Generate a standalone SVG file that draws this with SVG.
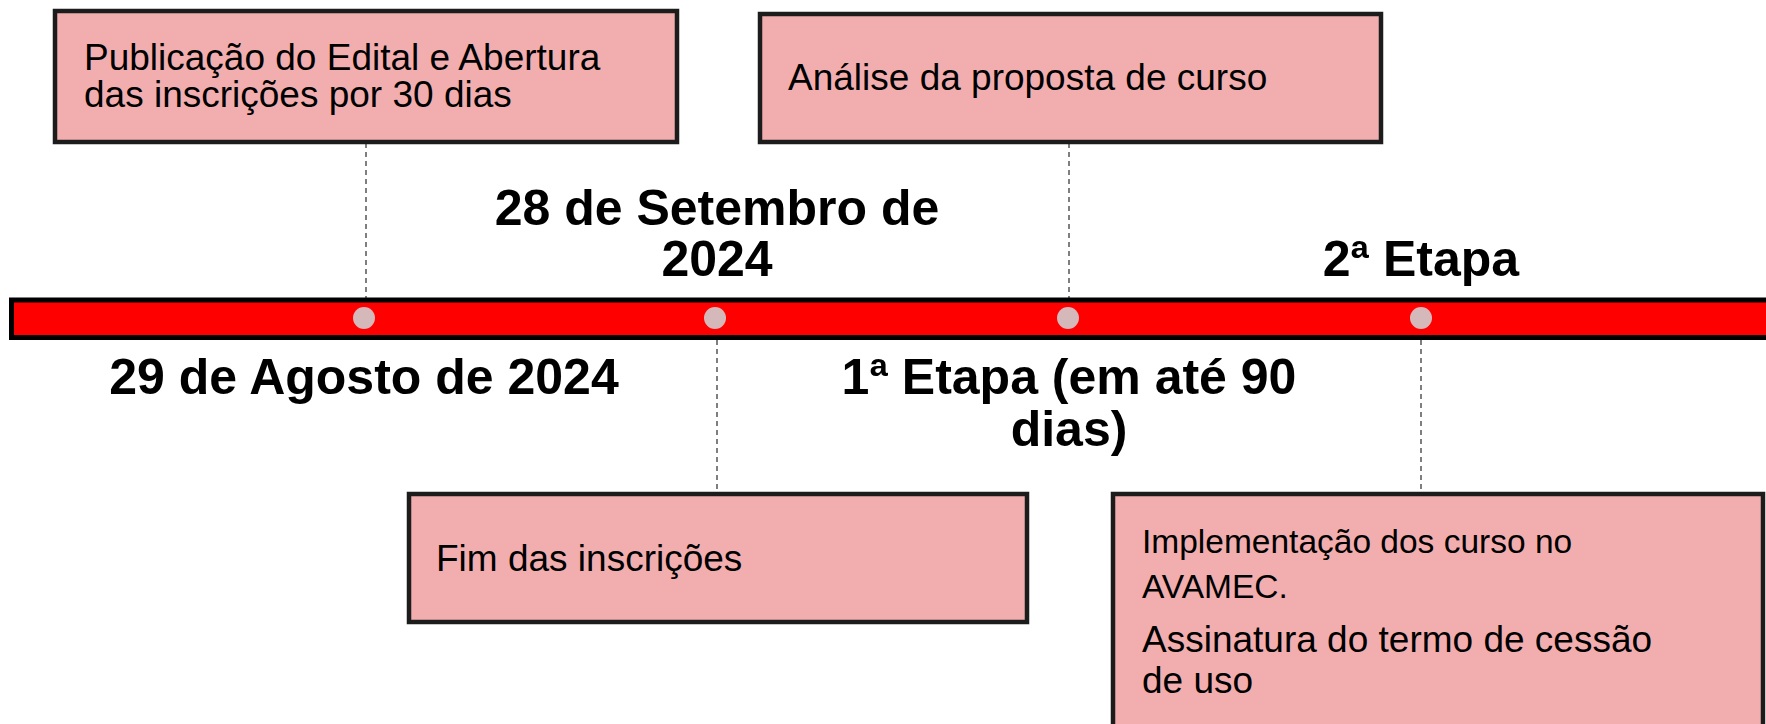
<svg xmlns="http://www.w3.org/2000/svg" width="1766" height="724" viewBox="0 0 1766 724">
<style>
.box{fill:#F2AEAF;stroke:#1c1c1c;stroke-width:4.5}
.bt{font-family:"Liberation Sans",Arial,sans-serif;font-size:37px;fill:#000}
.bt2{font-family:"Liberation Sans",Arial,sans-serif;font-size:33.5px;fill:#000}
.lbl{font-family:"Liberation Sans",Arial,sans-serif;font-size:50px;font-weight:bold;fill:#000;text-anchor:middle}
.dash{stroke:#555;stroke-width:1.5;stroke-dasharray:5,4;fill:none}
.dot{fill:#D4B8BA}
</style>
<rect width="1766" height="724" fill="#fff"/>
<g id="connectors">
<line class="dash" x1="366" y1="143" x2="366" y2="298"/>
<line class="dash" x1="717" y1="340" x2="717" y2="493"/>
<line class="dash" x1="1069" y1="143" x2="1069" y2="298"/>
<line class="dash" x1="1421" y1="340" x2="1421" y2="493"/>
</g>
<g id="timeline">
<rect x="11.5" y="300" width="1770" height="37.5" fill="#FF0000" stroke="#000" stroke-width="5"/>
<circle class="dot" cx="364" cy="318" r="11"/>
<circle class="dot" cx="715" cy="318" r="11"/>
<circle class="dot" cx="1068" cy="318" r="11"/>
<circle class="dot" cx="1421" cy="318" r="11"/>
</g>
<g id="node-publicacao">
<rect class="box" x="55" y="11" width="622" height="131"/>
<text class="bt" x="84" y="70">Publicação do Edital e Abertura</text>
<text class="bt" x="84" y="107">das inscrições por 30 dias</text>
</g>
<g id="node-analise">
<rect class="box" x="760" y="14" width="621" height="128"/>
<text class="bt" x="788" y="90">Análise da proposta de curso</text>
</g>
<g id="node-fim">
<rect class="box" x="409" y="494" width="618" height="128"/>
<text class="bt" x="436" y="571">Fim das inscrições</text>
</g>
<g id="node-implementacao">
<rect class="box" x="1113" y="494" width="650" height="260"/>
<text class="bt2" x="1142" y="553">Implementação dos curso no</text>
<text class="bt2" x="1142" y="598">AVAMEC.</text>
<text class="bt" x="1142" y="652">Assinatura do termo de cessão</text>
<text class="bt" x="1142" y="693">de uso</text>
</g>
<g id="labels">
<text class="lbl" x="717" y="225">28 de Setembro de</text>
<text class="lbl" x="717" y="276">2024</text>
<text class="lbl" x="1421" y="276">2ª Etapa</text>
<text class="lbl" x="364" y="394">29 de Agosto de 2024</text>
<text class="lbl" x="1069" y="394">1ª Etapa (em até 90</text>
<text class="lbl" x="1069" y="446">dias)</text>
</g>
</svg>
